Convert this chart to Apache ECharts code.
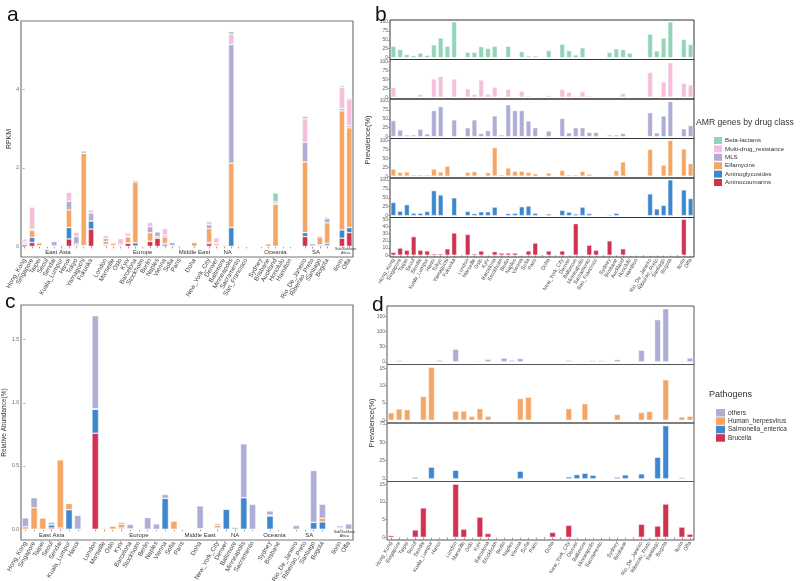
<!DOCTYPE html>
<html><head><meta charset="utf-8">
<script src="https://cdn.jsdelivr.net/npm/echarts@6/dist/echarts.min.js"></script>
<style>html,body{margin:0;padding:0;background:#fff}#c{width:800px;height:581px}</style>
</head><body><div id="c"></div>
<script>
// ---------- categories ----------
const citiesAB = ['Hong_Kong','Singapore','Taipei','Seoul','Sendai','Kuala_Lumpur','Hanoi','Tokyo','Yamaguchi','Fukuoka',
  'London','Marseille','Oslo','Kyiv','Barcelona','Stockholm','Berlin','Naples','Vienna','Sofia','Paris',
  'Doha',
  'New_York_City','Denver','Baltimore','Minneapolis','Sacramento','San_Francisco',
  'Sydney','Brisbane','Auckland','Honolulu','Hamilton',
  'Rio_De_Janeiro','Ribeirao_Preto','Santiago','Bogota',
  'Ilorin','Offa'];
const groupSizesAB = [10,11,1,6,5,4,2];
const regionNames = ['East Asia','Europe','Middle East','NA','Oceania','SA','Sub-Saharan\nAfrica'];

const citiesCD = ['Hong_Kong','Singapore','Taipei','Seoul','Sendai','Kuala_Lumpur','Hanoi',
  'London','Marseille','Oslo','Kyiv','Barcelona','Stockholm','Berlin','Naples','Vienna','Sofia','Paris',
  'Doha',
  'New_York_City','Denver','Baltimore','Minneapolis','Sacramento',
  'Sydney','Brisbane',
  'Rio_De_Janeiro','Ribeirao_Preto','Santiago','Bogota',
  'Ilorin','Offa'];
const groupSizesCD = [7,11,1,5,2,4,2];

// ---------- panel a: RPKM by drug class ----------
const rpkmAminocoumarins = [0.04,0.10,0.01,0.01,0,0.02,0.19,0,0.01,0.44, 0.03,0.01,0,0.08,0.01,0,0.13,0.21,0.04,0.02,0, 0, 0.07,0.02,0.02,0,0,0, 0,0,0,0,0, 0.25,0.01,0.03,0.03, 0.21,0.35];
const rpkmAminoglycosides = [0.02,0.13,0.01,0,0.01,0,0.29,0.03,0.01,0.21, 0.02,0.01,0,0.01,0.08,0,0,0,0.04,0,0, 0, 0.03,0,0,0.48,0,0, 0,0,0,0,0, 0.10,0,0.01,0.05, 0.21,0.13];
const rpkmElfamycins = [0.04,0.18,0.07,0.01,0,0,0.45,0.03,2.35,0, 0.08,0.06,0.02,0.15,1.55,0.03,0.22,0.04,0.16,0,0, 0.10, 0.35,0.05,0,1.64,0.02,0.01, 0,0.07,1.08,0,0, 1.80,0,0.20,0.52, 3.03,2.54];
const rpkmMLS = [0.03,0.03,0.02,0,0.12,0.03,0.22,0.19,0,0.20, 0.07,0.03,0.03,0.02,0.04,0,0.15,0.12,0.05,0.08,0.03, 0.01, 0.10,0.02,0.02,3.02,0,0, 0.01,0,0,0,0, 0.50,0.06,0.03,0.11, 0.06,0.05];
const rpkmMDR = [0.06,0.56,0.01,0,0.01,0,0.23,0.11,0,0.08, 0.08,0.01,0.15,0.08,0.02,0,0.11,0.01,0.17,0.02,0.01, 0.01, 0.08,0.13,0.02,0.26,0,0, 0,0,0.06,0,0, 0.60,0.01,0.02,0.04, 0.54,0.68];
const rpkmBetaLactams = [0,0.02,0,0,0,0,0.02,0.01,0.06,0.01, 0,0,0,0.02,0,0,0.02,0,0.01,0,0, 0, 0.02,0,0,0.07,0,0, 0,0,0.22,0,0, 0.06,0,0,0.01, 0.04,0.03];

// ---------- panel b: prevalence (%) by drug class ----------
const prevBetaLactams = [32,23,9,6,13,7,36,55,32,100, 15,15,31,26,32,0,32,0,17,5,5, 20, 38,20,8,28,0,0, 15,25,23,13,0, 66,19,55,100, 51,37];
const prevMDR = [27,2,1,1,8,0,51,58,0,51, 24,8,48,9,28,0,22,0,17,4,0, 5, 22,14,3,16,4,0, 0,0,11,0,0, 69,1,43,96, 39,34];
const prevMLS = [45,19,5,5,21,8,73,84,0,47, 25,47,9,17,58,5,89,73,73,44,25, 16, 51,11,25,25,12,12, 5,5,9,0,0, 67,11,58,98, 22,31];
const prevElfamycins = [20,11,12,4,4,4,20,12,28,0, 11,13,2,10,80,4,23,14,14,11,7, 9, 16,4,4,14,6,0, 3,16,40,0,0, 75,2,31,100, 76,35];
const prevAminoglycosides = [37,13,31,7,7,12,70,58,0,50, 12,6,11,11,24,0,6,7,25,27,7, 5, 15,10,5,24,6,0, 3,7,0,0,0, 61,19,29,100, 72,48];
const prevAminocoumarins = [4,10,7,26,7,6,2,2,9,31, 29,2,6,0,5,3,3,3,0,6,17, 6, 6,0,44,0,14,7, 20,0,9,0,0, 0,0,0,0, 50,0];

// ---------- panel c: relative abundance (%) of pathogens ----------
const abBrucella = [0,0,0,0.01,0.01,0,0, 0.76,0.005,0,0.01,0.003,0,0,0,0,0,0, 0.005, 0.006,0,0.003,0,0, 0,0, 0,0,0,0, 0.008,0];
const abSalmonella = [0,0,0,0.025,0,0.155,0, 0.19,0,0,0,0,0,0,0,0.245,0,0, 0, 0.004,0.16,0.012,0.25,0, 0.105,0.002, 0,0,0.055,0.058, 0,0];
const abHerpes = [0.02,0.17,0.09,0,0.54,0.05,0, 0.005,0.01,0.026,0.03,0,0,0,0,0,0.066,0, 0, 0.022,0,0.005,0,0, 0.007,0, 0,0.007,0,0.03, 0.003,0];
const abOthers = [0.07,0.08,0,0.02,0,0,0.11, 0.735,0,0,0.015,0.035,0,0.092,0.042,0.03,0,0, 0.18, 0.013,0,0.005,0.426,0.197, 0.033,0.002, 0.03,0,0.41,0.11, 0.016,0.042];

// ---------- panel d: prevalence (%) of pathogens ----------
const pvOthers = [2,5,0.5,2,0,0,5.5, 41.6,2,0,3.3,8.8,0,13,5.5,11,0,0, 1, 5.5,0,0,4.4,4.4, 7.7,0, 38,2,139,175, 3.3,13];
const pvHerpes = [2.2,3.3,3.1,0,6.9,15.3,0, 2.7,2.7,1.2,3.4,1.2,0,0,0,6.3,6.7,0, 0, 3.4,0,4.8,0,0, 1.7,0, 2.3,2.6,0,11.7, 1.0,1.2];
const pvSalmonella = [0,0,0,2.3,0,16,0, 11.8,0,0,0,0,0,0,0,10.5,0,0, 0, 2.7,5.9,7.7,5,0, 2.3,5.5, 6.8,0,29.5,72.7, 1.8,0];
const pvBrucella = [0.5,0.2,0,2.1,8.3,0,0, 15,2.3,0,5.7,1.1,0,0,0,0,0,0, 1.4, 3.4,0,0,0,0, 0,0, 3.7,0,3.2,9.4, 2.9,0.9];

// ---------- tick labels ----------
const ticksA = [0,2,4];
const ticksB = [0,25,50,75,100];
const ticksB6 = [0,10,20,30,40,50];
const ticksC = [0,0.5,1.0,1.5];
const ticksD = [[0,50,100,150],[0,5,10,15],[0,25,50,75],[0,5,10,15]];

// ---------- helpers ----------
function buildSlots(cities, sizes){
  const cats=[], isCity=[]; let k=0;
  sizes.forEach((s,gi)=>{ if(gi>0){cats.push(' '.repeat(gi)); isCity.push(false);} for(let j=0;j<s;j++){cats.push(cities[k++]); isCity.push(true);} });
  return {cats,isCity};
}
function spread(vals, sizes){
  const out=[]; let k=0;
  sizes.forEach((s,gi)=>{ if(gi>0) out.push(null); for(let j=0;j<s;j++) out.push(vals[k++]); });
  return out;
}
function centers(sizes){
  const c=[]; let idx=0;
  sizes.forEach((s,gi)=>{ if(gi>0) idx++; c.push(idx+(s-1)/2); idx+=s; });
  return c;
}
const AB = buildSlots(citiesAB, groupSizesAB);
const CD = buildSlots(citiesCD, groupSizesCD);
const cenAB = centers(groupSizesAB), cenCD = centers(groupSizesCD);

const FONT = 'Liberation Sans, Arial, sans-serif';
const C = {beta:'#93D4B8', mdr:'#F5BFDB', mls:'#ADADD6', elf:'#F6A664', amg:'#3D87CE', amc:'#D13251'};
const amrNames = ['Aminocoumarins','Aminoglycosides','Elfamycins','MLS','Multi-drug_resistance','Beta-lactams'];
const amrColors = [C.amc,C.amg,C.elf,C.mls,C.mdr,C.beta];
const patNames = ['Brucella','Salmonella_enterica','Human_herpesvirus','others'];
const patColors = [C.amc,C.amg,C.elf,C.mls];
const barBorder = {borderColor:'rgba(255,255,255,0.75)', borderWidth:0.6};

const grids=[], xAxes=[], yAxes=[], series=[];

function yAx(gi, min, max, ticks, extra){
  return Object.assign({type:'value', gridIndex:gi, min, max, splitLine:{show:false},
    axisLine:{show:false},
    axisTick:{show:true, length:2, customValues:ticks, lineStyle:{color:'#777', width:0.6}},
    axisLabel:{customValues:ticks, fontSize:5, color:'#666', margin:2, fontFamily:FONT}}, extra||{});
}
function catAx(gi, slots, showLabels, fs, tickAll){
  return {type:'category', gridIndex:gi, data:slots.cats, boundaryGap:true, position:'bottom',
    axisLine:{show:false}, splitLine:{show:false},
    axisTick:{show:showLabels, length:2, alignWithLabel:true, interval: tickAll ? 0 : (i)=>slots.isCity[i], lineStyle:{color:'#555', width:0.6}},
    axisLabel:{show:showLabels, interval:0, rotate:60, fontSize:fs, color:'#444', margin:2, fontFamily:FONT}};
}
function stripAx(gi, n, cen, fs){
  return {type:'value', gridIndex:gi, position:'bottom', min:-0.5, max:n-0.5,
    axisLine:{show:false}, axisTick:{show:false}, splitLine:{show:false},
    axisLabel:{inside:true, margin:2, customValues:cen, fontSize:fs, lineHeight:fs, color:'#333', fontFamily:FONT,
      formatter:(v)=>{ for(let i=0;i<cen.length;i++){ if(Math.abs(cen[i]-v)<0.01){ return i===6 ? '{s|'+regionNames[i]+'}' : regionNames[i]; } } return ''; },
      rich:{s:{fontSize:3.6, lineHeight:4, color:'#333'}}}};
}
const gbase = {show:true, backgroundColor:'transparent', outerBoundsMode:'none', containLabel:false};

// ----- panel a -----
grids.push(Object.assign({left:21, top:21, width:332, height:236, borderColor:'#777', borderWidth:1.2}, gbase));
xAxes.push(catAx(0, AB, true, 6.3, false));
xAxes.push(stripAx(0, AB.cats.length, cenAB, 6));
yAxes.push(yAx(0, -0.27, 5.74, ticksA, {name:'RPKM', nameLocation:'middle', nameGap:8, nameRotate:90, nameTextStyle:{fontSize:7, color:'#333', fontFamily:FONT}}));
[rpkmAminocoumarins,rpkmAminoglycosides,rpkmElfamycins,rpkmMLS,rpkmMDR,rpkmBetaLactams].forEach((v,i)=>{
  series.push({type:'bar', name:amrNames[i], xAxisIndex:0, yAxisIndex:0, stack:'a', barWidth:'76%',
    data:spread(v,groupSizesAB), itemStyle:Object.assign({color:amrColors[i]}, barBorder)});
});

// ----- panel b -----
const bVals = [prevBetaLactams,prevMDR,prevMLS,prevElfamycins,prevAminoglycosides,prevAminocoumarins];
const bNames = ['Beta-lactams','Multi-drug_resistance','MLS','Elfamycins','Aminoglycosides','Aminocoumarins'];
const bCols = [C.beta,C.mdr,C.mls,C.elf,C.amg,C.amc];
for(let k=0;k<6;k++){
  const gi = 1+k;
  grids.push(Object.assign({left:390, top:20+k*39.5, width:304, height:39.5, borderColor:'#333', borderWidth:1}, gbase));
  xAxes.push(catAx(gi, AB, k===5, 5.3, true));
  yAxes.push(k<5 ? yAx(gi,-5,105,ticksB) : yAx(gi,-2.5,52.5,ticksB6));
  series.push({type:'bar', name:bNames[k], xAxisIndex:2+k, yAxisIndex:gi, barWidth:'76%',
    data:spread(bVals[k],groupSizesAB), itemStyle:Object.assign({color:bCols[k]}, barBorder)});
}

// ----- panel c -----
grids.push(Object.assign({left:21, top:305, width:332, height:235, borderColor:'#777', borderWidth:1.2}, gbase));
xAxes.push(catAx(7, CD, true, 6.3, false));
xAxes.push(stripAx(7, CD.cats.length, cenCD, 6));
yAxes.push(yAx(7, -0.085, 1.775, ticksC, {name:'Relative Abundance(%)', nameLocation:'middle', nameGap:12, nameRotate:90,
  nameTextStyle:{fontSize:6.5, color:'#333', fontFamily:FONT}}));
yAxes[7].axisLabel.formatter = (v)=>v.toFixed(1);
[abBrucella,abSalmonella,abHerpes,abOthers].forEach((v,i)=>{
  series.push({type:'bar', name:patNames[i], xAxisIndex:8, yAxisIndex:7, stack:'c', barWidth:'76%',
    data:spread(v,groupSizesCD), itemStyle:Object.assign({color:patColors[i]}, barBorder)});
});

// ----- panel d -----
const dVals = [pvOthers,pvHerpes,pvSalmonella,pvBrucella];
const dNames = ['others','Human_herpesvirus','Salmonella_enterica','Brucella'];
const dCols = [C.mls,C.elf,C.amg,C.amc];
const dRange = [[-8.75,183.75],[-0.77,16.1],[-3.6,76.3],[-0.75,15.75]];
for(let k=0;k<4;k++){
  const gi = 8+k;
  grids.push(Object.assign({left:387, top:306+k*58.5, width:307, height:58.5, borderColor:'#555', borderWidth:1}, gbase));
  xAxes.push(catAx(gi, CD, k===3, 5.3, true));
  yAxes.push(yAx(gi, dRange[k][0], dRange[k][1], ticksD[k]));
  series.push({type:'bar', name:dNames[k], xAxisIndex:10+k, yAxisIndex:gi, barWidth:'76%',
    data:spread(dVals[k],groupSizesCD), itemStyle:Object.assign({color:dCols[k]}, barBorder)});
}

const chart = echarts.init(document.getElementById('c'), null, {renderer:'canvas'});
chart.setOption({
  animation:false,
  backgroundColor:'#fff',
  textStyle:{fontFamily:FONT},
  title:[
    {text:'a', left:2, top:0, textStyle:{fontSize:21, fontWeight:'normal', color:'#111', fontFamily:FONT}},
    {text:'b', left:370, top:0, textStyle:{fontSize:21, fontWeight:'normal', color:'#111', fontFamily:FONT}},
    {text:'c', left:0, top:287, textStyle:{fontSize:21, fontWeight:'normal', color:'#111', fontFamily:FONT}},
    {text:'d', left:367, top:290, textStyle:{fontSize:21, fontWeight:'normal', color:'#111', fontFamily:FONT}},
    {text:'AMR genes by drug class', left:696, top:118, padding:0, textStyle:{fontSize:8.6, fontWeight:'normal', color:'#333', fontFamily:FONT}},
    {text:'Pathogens', left:709, top:390, padding:0, textStyle:{fontSize:9, fontWeight:'normal', color:'#333', fontFamily:FONT}}
  ],
  legend:[
    {data:bNames, orient:'vertical', left:709, top:132, itemWidth:8, itemHeight:7, itemGap:1.4, icon:'rect', selectedMode:false,
      itemStyle:{borderWidth:0}, textStyle:{fontSize:6.2, lineHeight:7, color:'#333', fontFamily:FONT, padding:[0,0,0,-2]}},
    {data:dNames, orient:'vertical', left:711, top:404, itemWidth:9, itemHeight:7.5, itemGap:0.9, icon:'rect', selectedMode:false,
      itemStyle:{borderWidth:0}, textStyle:{fontSize:6.5, lineHeight:7.5, color:'#333', fontFamily:FONT, padding:[0,0,0,-2]}}
  ],
  graphic:[
    {type:'text', x:368, y:140, rotation:Math.PI/2, style:{text:'Prevalence(%)', fontSize:7.5, fill:'#333', align:'center', verticalAlign:'middle', font:'7.5px '+FONT}},
    {type:'text', x:372, y:423, rotation:Math.PI/2, style:{text:'Prevalence(%)', fontSize:7.5, fill:'#333', align:'center', verticalAlign:'middle', font:'7.5px '+FONT}}
  ],
  grid:grids, xAxis:xAxes, yAxis:yAxes, series:series
});
</script></body></html>
